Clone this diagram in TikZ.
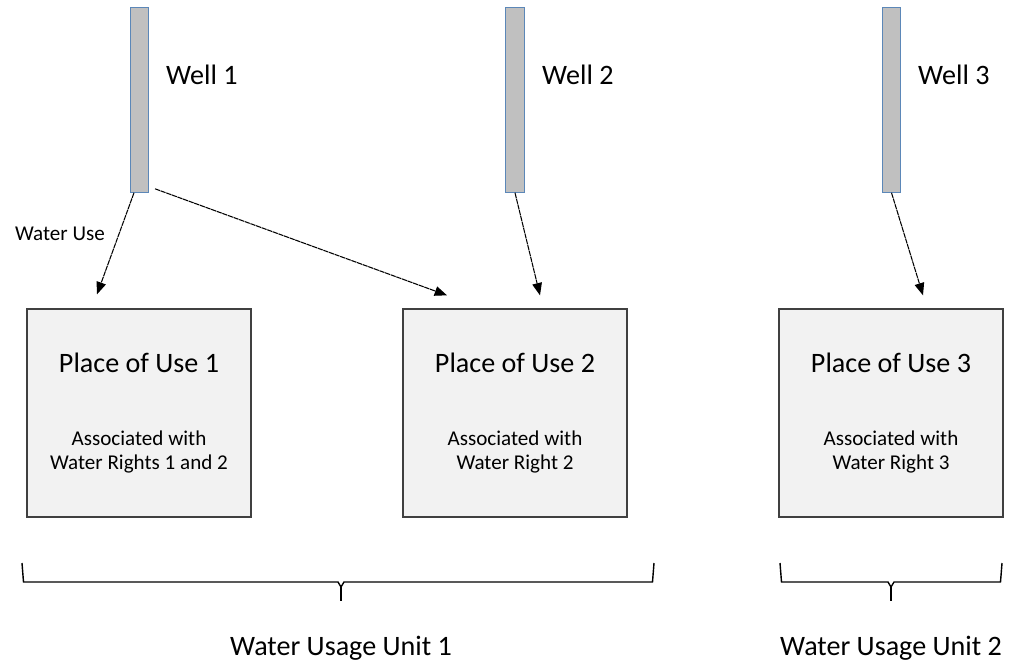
\documentclass[tikz,border=0pt]{standalone}
\usepackage{fontspec}
\setmainfont{Carlito}
\usetikzlibrary{arrows.meta,shapes.geometric}

\definecolor{wellblue}{HTML}{5B87B8}
\definecolor{wellgray}{HTML}{C0C0C0}
\definecolor{boxgray}{HTML}{F2F2F2}
\definecolor{boxline}{HTML}{404040}

\begin{document}
\begin{tikzpicture}[x=0.02cm,y=-0.02cm,
  well/.style={draw=wellblue, line width=0.7pt, shape=cylinder, shape border rotate=90,
    aspect=0.12, cylinder uses custom fill, cylinder body fill=wellgray, cylinder end fill=wellgray!50,
    minimum width=0.37cm, minimum height=3.7cm, inner sep=0pt},
  place/.style={draw=boxline, fill=boxgray, line width=0.8pt, minimum width=4.48cm,
    minimum height=4.16cm, inner sep=0pt},
  big/.style={font=\fontsize{16}{19}\selectfont},
  small/.style={font=\fontsize{12}{14.2}\selectfont, align=center},
  flow/.style={line width=0.6pt, dash pattern=on 3pt off 0.4pt, -{Triangle[length=7pt,width=5.5pt]}},
  brace/.style={line width=0.8pt}]

\useasboundingbox (0,0) rectangle (1010,664);

% wells
\node[well] (w1) at (139.5,100) {};
\node[well] (w2) at (515,100) {};
\node[well] (w3) at (891.5,100) {};
\node[big, anchor=west] (lw1) at (160,75) {Well 1};
\node[big, anchor=west] (lw2) at (536,75) {Well 2};
\node[big, anchor=west] (lw3) at (912,75) {Well 3};

% places of use
\node[place] (p1) at (139,413) {};
\node[place] (p2) at (515,413) {};
\node[place] (p3) at (891,413) {};
\node[big] (t1) at (139,363) {Place of Use 1};
\node[big] (t2) at (515,363) {Place of Use 2};
\node[big] (t3) at (891,363) {Place of Use 3};
\node[small] (a1) at (139,452) {Associated with\\Water Rights 1 and 2};
\node[small] (a2) at (515,452) {Associated with\\Water Right 2};
\node[small] (a3) at (891,452) {Associated with\\Water Right 3};

% water use
\draw[flow] ([xshift=-5.5*0.02cm]w1.south) -- ([shift={(-42,-14)}]p1.north);
\draw[flow] ([shift={(15.5,-4)}]w1.south) -- ([shift={(-68,-13)}]p2.north);
\draw[flow] (w2.south) -- ([shift={(25,-13)}]p2.north);
\draw[flow] (w3.south) -- ([shift={(32,-13)}]p3.north);
\node[small] (wu) at (60,234) {Water Use};

% usage units
\newcommand{\unitbrace}[3]{%
  \draw[brace] (#1,563) -- (#1+1.5,582) -- (#2-3,582) -- (#2,587) -- (#2+3,582) -- (#3-1.5,582) -- (#3,563);
  \draw[brace] (#2,587) -- (#2,601);
}
\unitbrace{22}{341}{654}
\unitbrace{780}{891}{1002}
\node[big] (u1) at (341,648) {Water Usage Unit 1};
\node[big] (u2) at (891,648) {Water Usage Unit 2};

\end{tikzpicture}
\end{document}
